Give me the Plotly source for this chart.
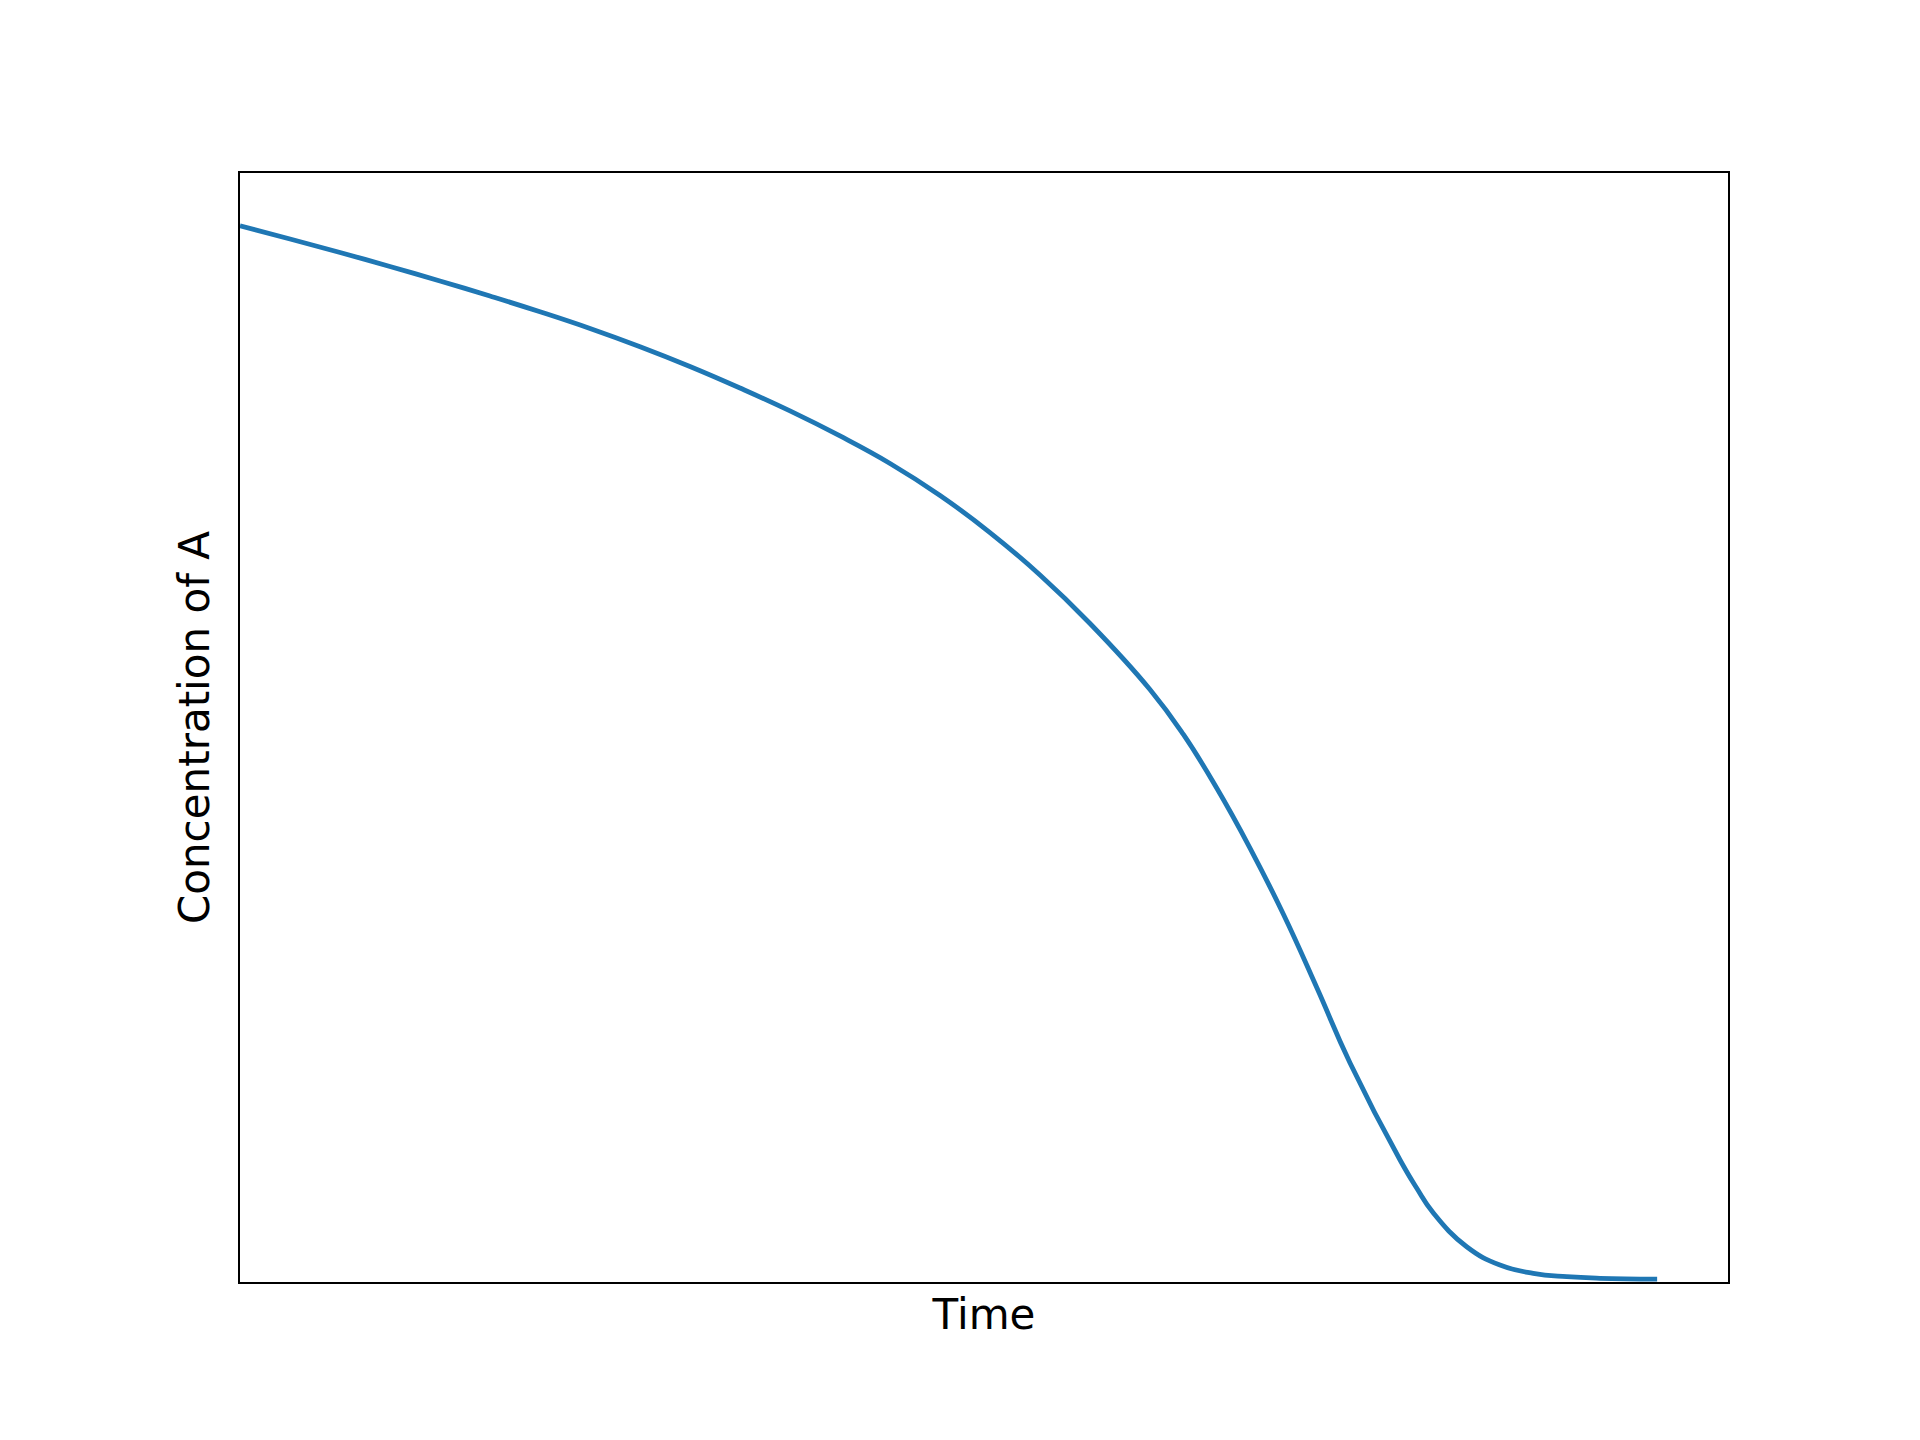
import plotly.graph_objects as go

# Values
time = [0.0, 0.353, 0.706, 1.058, 1.411, 1.764, 2.117, 2.470, 2.823, 3.175,
        3.528, 3.881, 4.234, 4.587, 4.940, 5.292, 5.645, 5.998, 6.421, 6.657,
        6.892, 7.127, 7.362, 7.598, 7.833, 8.186, 8.303, 8.421, 8.656,
        8.891, 9.126, 9.362, 9.597, 10.0]
conc_a = [1.000, 0.9875, 0.9747, 0.9615, 0.9478, 0.9335, 0.9186, 0.9028, 0.8855, 0.8668,
          0.8464, 0.8247, 0.8010, 0.7750, 0.7447, 0.7096, 0.6694, 0.6235, 0.5610, 0.5184,
          0.4677, 0.4109, 0.3484, 0.2788, 0.2074, 0.1155, 0.0890, 0.0653, 0.0334,
          0.0161, 0.0082, 0.0050, 0.0035, 0.0028]

x_label = "Time"
y_label = "Concentration of A"

fig = go.Figure()
fig.add_trace(go.Scatter(
    x=time, y=conc_a, mode="lines",
    line=dict(color="#1f77b4", width=4.8, shape="spline", smoothing=1.3),
    showlegend=False, hoverinfo="skip",
))

axis_common = dict(
    showline=True, linecolor="black", linewidth=2.2, mirror=True,
    showgrid=False, zeroline=False, ticks="", showticklabels=False,
    automargin=False,
)

fig.update_layout(
    width=1920, height=1440,
    margin=dict(l=232, r=200, t=165, b=166, pad=0),
    paper_bgcolor="white", plot_bgcolor="white",
    font=dict(family="DejaVu Sans", size=42, color="black"),
    xaxis=dict(range=[0, 10.5], title=dict(text=x_label, standoff=16,
               font=dict(size=42)), **axis_common),
    yaxis=dict(range=[0, 1.05], title=dict(text=y_label, standoff=15,
               font=dict(size=42)), **axis_common),
)

fig.write_html("out.html")
